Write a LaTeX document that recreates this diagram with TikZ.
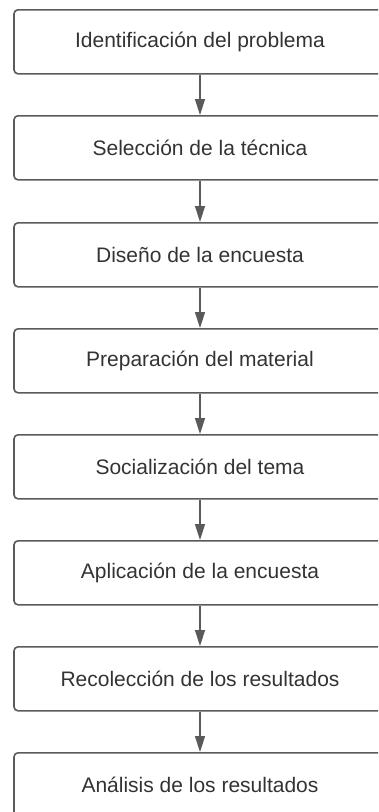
\documentclass[tikz,border=0pt]{standalone}
\usepackage{fontspec}
\setmainfont{Liberation Sans}
\usetikzlibrary{arrows.meta}
\definecolor{linegray}{HTML}{5A5A5A}
\definecolor{textgray}{HTML}{333333}
\begin{document}
\begin{tikzpicture}[x=1pt,y=1pt,
  stepbox/.style={draw=linegray, line width=1.6pt, rounded corners=4pt,
    minimum width=372pt, minimum height=64pt, inner sep=0pt,
    text=textgray, font=\fontsize{21}{24}\selectfont, anchor=north},
  flow/.style={draw=linegray, line width=1.4pt,
    -{Triangle[length=16pt,width=10pt]}}]
\useasboundingbox (0,0) rectangle (378,-812);
\begin{scope}
\clip (0,0) rectangle (378,-812);
\node[stepbox] (b1) at (200,-9)   {Identificación del problema};
\node[stepbox] (b2) at (200,-115) {Selección de la técnica};
\node[stepbox] (b3) at (200,-222) {Diseño de la encuesta};
\node[stepbox] (b4) at (200,-328) {Preparación del material};
\node[stepbox] (b5) at (200,-434) {Socialización del tema};
\node[stepbox] (b6) at (200,-540) {Aplicación de la encuesta};
\node[stepbox] (b7) at (200,-646) {Recolección de los resultados};
\node[stepbox] (b8) at (200,-752) {Análisis de los resultados};
\foreach \a/\b in {b1/b2,b2/b3,b3/b4,b4/b5,b5/b6,b6/b7,b7/b8}
  \draw[flow] (\a.south) -- (\b.north);
\end{scope}
\end{tikzpicture}
\end{document}
